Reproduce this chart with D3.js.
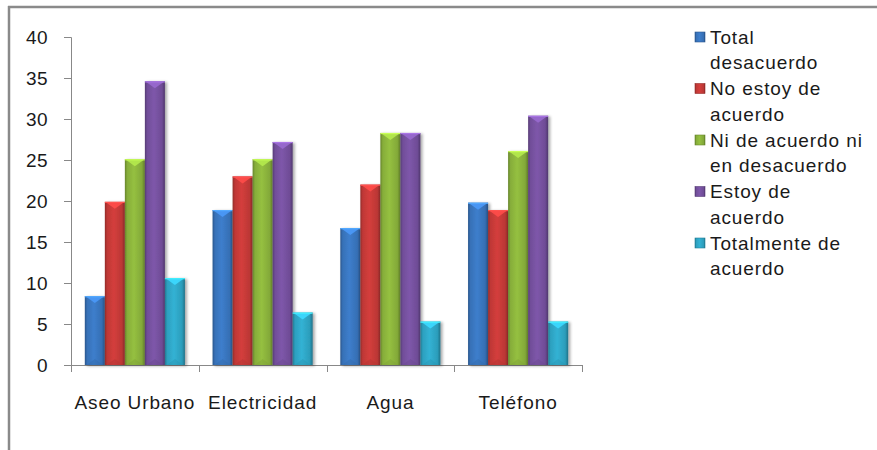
<!DOCTYPE html>
<html>
<head>
<meta charset="utf-8">
<script src="https://cdn.jsdelivr.net/npm/d3@7"></script>
<style>
  html, body { margin: 0; padding: 0; background: #fff; }
  svg { display: block; }
  text { font-family: "Liberation Sans", Arial, sans-serif; fill: #1a1a1a; }
</style>
</head>
<body>
<svg id="chart" width="877" height="450"></svg>
<script>
const categories = ["Aseo Urbano", "Electricidad", "Agua", "Teléfono"];
const seriesNames = ["Total desacuerdo", "No estoy de acuerdo", "Ni de acuerdo ni en desacuerdo", "Estoy de acuerdo", "Totalmente de acuerdo"];
const legendLines = [["Total", "desacuerdo"], ["No estoy de", "acuerdo"], ["Ni de acuerdo ni", "en desacuerdo"], ["Estoy de", "acuerdo"], ["Totalmente de", "acuerdo"]];
const totalDesacuerdo = [8.4, 18.9, 16.7, 19.8];
const noEstoyDeAcuerdo = [19.9, 23.0, 22.0, 18.9];
const niDeAcuerdo = [25.1, 25.1, 28.3, 26.1];
const estoyDeAcuerdo = [34.6, 27.2, 28.3, 30.4];
const totalmenteDeAcuerdo = [10.6, 6.4, 5.3, 5.3];
const yTicks = [0, 5, 10, 15, 20, 25, 30, 35, 40];
const colors = ["#3a77c1", "#c93b39", "#8db63d", "#7752a1", "#2fa9c9"];

const seriesValues = [totalDesacuerdo, noEstoyDeAcuerdo, niDeAcuerdo, estoyDeAcuerdo, totalmenteDeAcuerdo];

const svg = d3.select("#chart");
const defs = svg.append("defs");

colors.forEach((c, i) => {
  const base = d3.color(c);
  const g = defs.append("linearGradient").attr("id", "g" + i).attr("x1", "0").attr("x2", "1").attr("y1", "0").attr("y2", "0");
  g.append("stop").attr("offset", "0%").attr("stop-color", base.darker(0.9));
  g.append("stop").attr("offset", "12%").attr("stop-color", base.darker(0.15));
  g.append("stop").attr("offset", "45%").attr("stop-color", base.brighter(0.15));
  g.append("stop").attr("offset", "85%").attr("stop-color", base.darker(0.2));
  g.append("stop").attr("offset", "100%").attr("stop-color", base.darker(1.1));
});
const f = defs.append("filter").attr("id", "sh").attr("x", "-20%").attr("y", "-5%").attr("width", "150%").attr("height", "115%");
f.append("feGaussianBlur").attr("in", "SourceAlpha").attr("stdDeviation", 1.5).attr("result", "b");
f.append("feOffset").attr("in", "b").attr("dx", 2).attr("dy", 1).attr("result", "o");
f.append("feComponentTransfer").attr("in", "o").attr("result", "o2").append("feFuncA").attr("type", "linear").attr("slope", 0.35);
const m = f.append("feMerge");
m.append("feMergeNode").attr("in", "o2");
m.append("feMergeNode").attr("in", "SourceGraphic");

// outer border
svg.append("line").attr("x1", 9).attr("x2", 9).attr("y1", 6).attr("y2", 450).attr("stroke", "#8a8a8a").attr("stroke-width", 2.5);
svg.append("line").attr("x1", 8).attr("x2", 877).attr("y1", 7).attr("y2", 7).attr("stroke", "#8a8a8a").attr("stroke-width", 2.5);

const y = d3.scaleLinear().domain([0, 40]).range([365, 37]);
const x = d3.scaleBand().domain(categories).range([71, 582]).padding(0);
const xs = d3.scaleBand().domain(d3.range(seriesNames.length)).range([0, x.bandwidth()]).paddingInner(0).paddingOuter(0.69);

// y axis
const yAxis = svg.append("g").attr("transform", "translate(71,0)")
  .call(d3.axisLeft(y).tickValues(yTicks).tickSize(7).tickPadding(16).tickFormat(d3.format("d")));
yAxis.select(".domain").attr("stroke", "#888").attr("d", "M-7,37.5H0.5V365.5");
yAxis.selectAll(".tick line").attr("stroke", "#888");
yAxis.selectAll(".tick text").attr("font-size", 19).attr("letter-spacing", 0.4)
  .attr("font-family", "Liberation Sans, Arial, sans-serif").attr("fill", "#1a1a1a");

// x axis
const xAxis = svg.append("g").attr("transform", "translate(0,365)");
xAxis.append("line").attr("x1", 71).attr("x2", 582).attr("y1", 0.5).attr("y2", 0.5).attr("stroke", "#888");
const bounds = categories.map(c => x(c)).concat([x(categories[categories.length - 1]) + x.bandwidth()]);
xAxis.selectAll("line.tk").data(bounds).enter().append("line").attr("class", "tk")
  .attr("x1", d => Math.round(d) + 0.5).attr("x2", d => Math.round(d) + 0.5).attr("y1", 0).attr("y2", 7).attr("stroke", "#888");
xAxis.selectAll("text").data(categories).enter().append("text")
  .attr("x", d => x(d) + x.bandwidth() / 2).attr("y", 44)
  .attr("text-anchor", "middle").attr("font-size", 19).attr("letter-spacing", 0.9).text(d => d);

// bars
const groups = svg.append("g").selectAll("g").data(categories).enter().append("g")
  .attr("transform", d => `translate(${x(d)},0)`);
groups.each(function(cat, ci) {
  const g = d3.select(this);
  seriesValues.forEach((vals, si) => {
    const v = vals[ci];
    const x0 = xs(si), w = xs.bandwidth(), top = y(v), h = y(0) - y(v);
    const b = g.append("g").attr("filter", "url(#sh)");
    b.append("rect").attr("x", x0).attr("y", top).attr("width", w).attr("height", h).attr("fill", `url(#g${si})`);
    // top bevel chevron
    b.append("path").attr("d", `M${x0 + 1},${top + 0.5}L${x0 + w - 1},${top + 0.5}L${x0 + w / 2},${top + 7}Z`)
      .attr("fill", d3.color(colors[si]).brighter(0.7)).attr("opacity", 0.9);
    b.append("rect").attr("x", x0).attr("y", top).attr("width", w).attr("height", 1.2).attr("fill", d3.color(colors[si]).brighter(1.0));
    // bottom bevel
    b.append("path").attr("d", `M${x0 + 2},${y(0)}L${x0 + w - 2},${y(0)}L${x0 + w / 2},${y(0) - 6}Z`)
      .attr("fill", d3.color(colors[si]).darker(0.3)).attr("opacity", 0.5);
  });
});

// legend
const lg = svg.append("g");
legendLines.forEach((lines, i) => {
  const y0 = 37 + i * 51.5;
  lg.append("rect").attr("x", 695).attr("y", y0 - 5).attr("width", 10).attr("height", 10)
    .attr("fill", `url(#g${i})`).attr("stroke", d3.color(colors[i]).darker(0.8)).attr("stroke-width", 0.6);
  lines.forEach((t, j) => {
    lg.append("text").attr("x", 710).attr("y", y0 + j * 25.7 + 6.5).attr("font-size", 19)
      .attr("letter-spacing", 0.9).text(t);
  });
});
</script>
</body>
</html>
